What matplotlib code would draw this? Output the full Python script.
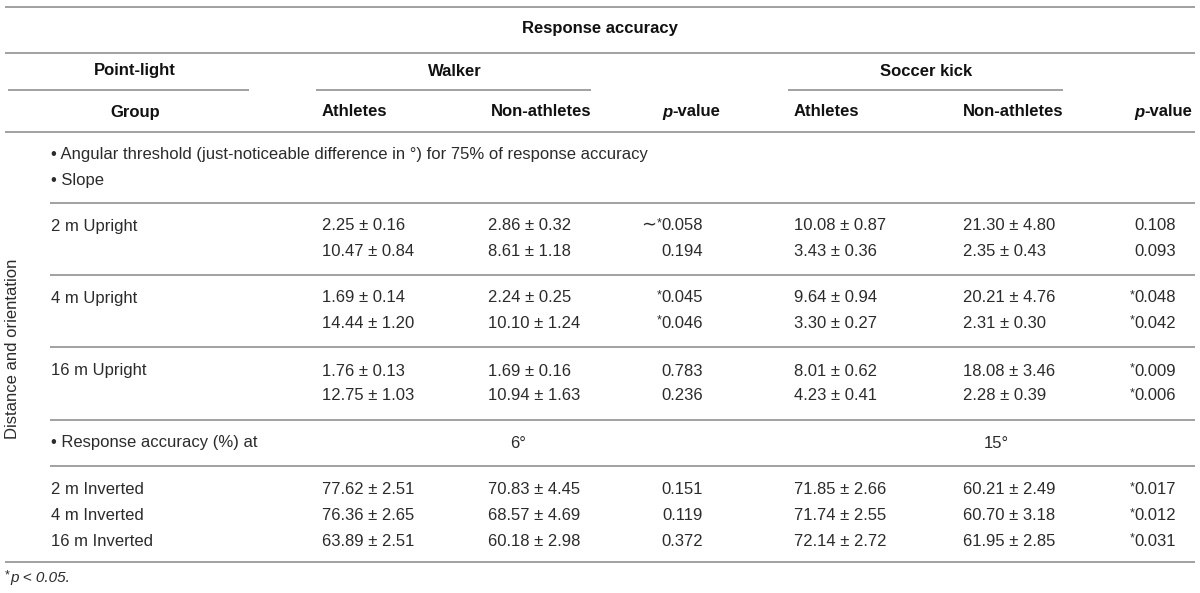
import matplotlib
matplotlib.use("Agg")
import matplotlib.pyplot as plt

plt.rcParams["font.family"] = ["Liberation Sans", "DejaVu Sans"]

# table data
groups = ["2 m Upright", "4 m Upright", "16 m Upright"]
walker_ath_thr = [(2.25, 0.16), (1.69, 0.14), (1.76, 0.13)]
walker_ath_slope = [(10.47, 0.84), (14.44, 1.20), (12.75, 1.03)]
walker_non_thr = [(2.86, 0.32), (2.24, 0.25), (1.69, 0.16)]
walker_non_slope = [(8.61, 1.18), (10.10, 1.24), (10.94, 1.63)]
walker_p_thr = ["~*0.058", "*0.045", "0.783"]
walker_p_slope = ["0.194", "*0.046", "0.236"]
kick_ath_thr = [(10.08, 0.87), (9.64, 0.94), (8.01, 0.62)]
kick_ath_slope = [(3.43, 0.36), (3.30, 0.27), (4.23, 0.41)]
kick_non_thr = [(21.30, 4.80), (20.21, 4.76), (18.08, 3.46)]
kick_non_slope = [(2.35, 0.43), (2.31, 0.30), (2.28, 0.39)]
kick_p_thr = ["0.108", "*0.048", "*0.009"]
kick_p_slope = ["0.093", "*0.042", "*0.006"]

inv_groups = ["2 m Inverted", "4 m Inverted", "16 m Inverted"]
inv_walker_ath = [(77.62, 2.51), (76.36, 2.65), (63.89, 2.51)]
inv_walker_non = [(70.83, 4.45), (68.57, 4.69), (60.18, 2.98)]
inv_walker_p = ["0.151", "0.119", "0.372"]
inv_kick_ath = [(71.85, 2.66), (71.74, 2.55), (72.14, 2.72)]
inv_kick_non = [(60.21, 2.49), (60.70, 3.18), (61.95, 2.85)]
inv_kick_p = ["*0.017", "*0.012", "*0.031"]
acc_angles = ["6°", "15°"]

fig = plt.figure(figsize=(12, 5.93), dpi=100)
ax = fig.add_axes([0, 0, 1, 1])
ax.set_xlim(0, 1200)
ax.set_ylim(593, 0)
ax.axis("off")

FS = 12
TXT = "#2b2b2b"
HEAD = "#111111"
LINE = "#9a9a9a"

# column anchors
X_LABEL = 51
X_WA, X_WN, X_WP = 322, 488, 703
X_KA, X_KN, X_KP = 794, 963, 1176

fig.canvas.draw()
rend = fig.canvas.get_renderer()


def left_of(t):
    bb = t.get_window_extent(rend)
    return ax.transData.inverted().transform((bb.x0, bb.y0))[0]


def ms(v):
    return "{:.2f} ± {:.2f}".format(v[0], v[1])


def put(x, y, s, ha="left", size=FS, color=TXT, **kw):
    return ax.text(x, y, s, ha=ha, va="center", fontsize=size, color=color, **kw)


def head(x, y, s, ha="center"):
    return put(x, y, s, ha=ha, color=HEAD, weight="bold")


def pval(x, y, s):
    # number right-aligned, raised asterisk and tilde in front of it
    num = s.lstrip("~*")
    t = put(x, y, num, ha="right")
    xl = left_of(t)
    if "*" in s:
        t = put(xl + 0.5, y - 3, "*", ha="right", size=9)
        xl = left_of(t)
    if "~" in s:
        put(xl - 1, y - 1, "∼", ha="right", size=13, family=["DejaVu Sans"])


def hline(y, x0=5, x1=1195):
    ax.plot([x0, x1], [y, y], color=LINE, lw=1.3, solid_capstyle="butt")


# header
hline(7)
head(600, 28, "Response accuracy")
hline(53)
head(135, 71, "Point-light")
head(455, 71, "Walker")
head(926, 71, "Soccer kick")
hline(90, 8, 249)
hline(90, 316, 591)
hline(90, 788, 1063)
head(135, 112, "Group")
head(X_WA, 112, "Athletes", ha="left")
head(591, 112, "Non-athletes", ha="right")
head(X_KA, 112, "Athletes", ha="left")
head(1063, 112, "Non-athletes", ha="right")
for xr in (720, 1192):
    t = head(xr, 112, "-value", ha="right")
    put(left_of(t), 112, "p", ha="right", color=HEAD, weight="bold", style="italic")
hline(132)

put(X_LABEL, 154, "• Angular threshold (just-noticeable difference in °) for 75% of response accuracy")
put(X_LABEL, 180, "• Slope")

ax.text(13, 349, "Distance and orientation", rotation=90, ha="center", va="center",
        fontsize=FS, color=TXT)

row_y = [(226, 251), (298, 323), (371, 396)]
sep_y = [203, 275, 347]
for i, g in enumerate(groups):
    hline(sep_y[i], 50)
    y1, y2 = row_y[i]
    put(X_LABEL, y1, g)
    put(X_WA, y1, ms(walker_ath_thr[i]))
    put(X_WA, y2, ms(walker_ath_slope[i]))
    put(X_WN, y1, ms(walker_non_thr[i]))
    put(X_WN, y2, ms(walker_non_slope[i]))
    pval(X_WP, y1, walker_p_thr[i])
    pval(X_WP, y2, walker_p_slope[i])
    put(X_KA, y1, ms(kick_ath_thr[i]))
    put(X_KA, y2, ms(kick_ath_slope[i]))
    put(X_KN, y1, ms(kick_non_thr[i]))
    put(X_KN, y2, ms(kick_non_slope[i]))
    pval(X_KP, y1, kick_p_thr[i])
    pval(X_KP, y2, kick_p_slope[i])

hline(420, 50)
put(X_LABEL, 443, "• Response accuracy (%) at")
put(518, 443, acc_angles[0], ha="center")
put(996, 443, acc_angles[1], ha="center")
hline(466, 50)

inv_y = [490, 516, 541]
for i, g in enumerate(inv_groups):
    y = inv_y[i]
    put(X_LABEL, y, g)
    put(X_WA, y, ms(inv_walker_ath[i]))
    put(X_WN, y, ms(inv_walker_non[i]))
    pval(X_WP, y, inv_walker_p[i])
    put(X_KA, y, ms(inv_kick_ath[i]))
    put(X_KN, y, ms(inv_kick_non[i]))
    pval(X_KP, y, inv_kick_p[i])

hline(562)
put(5, 575, "*", size=9)
put(10, 578, "p < 0.05.", size=11, style="italic")

fig.savefig("out.png", dpi=100)
